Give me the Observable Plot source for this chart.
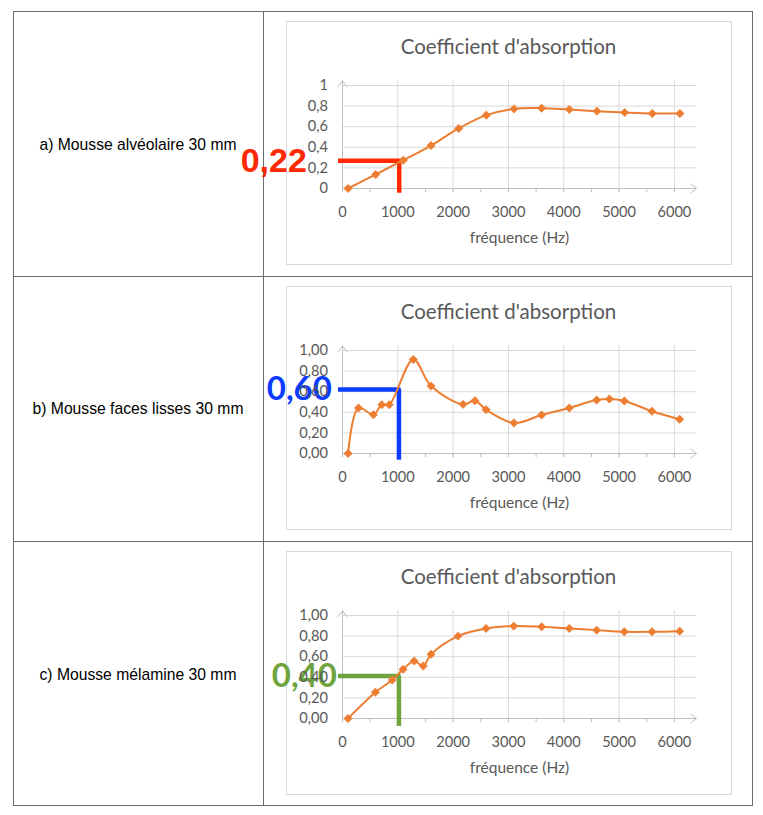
<!DOCTYPE html>
<html><head><meta charset="utf-8">
<script src="https://cdn.jsdelivr.net/npm/d3@7"></script>
<script src="https://cdn.jsdelivr.net/npm/@observablehq/plot@0.6"></script>
<style>
body{margin:0;background:#fff;}
#page{position:relative;width:763px;height:815px;background:#fff;overflow:hidden;}
.rule{position:absolute;background:#6b6b6b;}
.box{position:absolute;left:286px;width:446px;height:244px;border:1px solid #d9d9d9;box-sizing:border-box;}
.lbl{position:absolute;left:13px;width:250px;text-align:center;font-family:"Liberation Sans",Arial,sans-serif;font-size:15.7px;color:#000;line-height:18px;}
.chart{position:absolute;left:230px;}
.chart svg{overflow:visible;}
</style></head><body><div id="page"></div>
<script>
// ---- data ----
const rowLabels = ["a) Mousse alvéolaire 30 mm", "b) Mousse faces lisses 30 mm", "c) Mousse mélamine 30 mm"];
const chartTitle = "Coefficient d'absorption";
const xAxisLabel = "fréquence (Hz)";

const xTickValues = [0, 1000, 2000, 3000, 4000, 5000, 6000];
const xTickLabels = ["0", "1000", "2000", "3000", "4000", "5000", "6000"];
const xMinorTicks = [0, 500, 1000, 1500, 2000, 2500, 3000, 3500, 4000, 4500, 5000, 5500, 6000];
const yTickValues = [0, 0.2, 0.4, 0.6, 0.8, 1];
const yTickLabelsA = ["0", "0,2", "0,4", "0,6", "0,8", "1"];
const yTickLabelsBC = ["0,00", "0,20", "0,40", "0,60", "0,80", "1,00"];

const freqA = [100, 600, 1100, 1600, 2100, 2600, 3100, 3600, 4100, 4600, 5100, 5600, 6100];
const alphaA = [0, 0.136, 0.275, 0.417, 0.583, 0.712, 0.773, 0.78, 0.767, 0.751, 0.738, 0.728, 0.728];

const freqB = [100, 290, 560, 710, 845, 1280, 1600, 2180, 2395, 2595, 3100, 3600, 4100, 4595, 4825, 5095, 5595, 6095];
const alphaB = [0, 0.442, 0.377, 0.474, 0.474, 0.913, 0.655, 0.477, 0.513, 0.426, 0.297, 0.374, 0.442, 0.519, 0.529, 0.51, 0.41, 0.332];

const freqC = [100, 595, 900, 1095, 1295, 1460, 1600, 2090, 2595, 3095, 3600, 4100, 4595, 5095, 5595, 6095];
const alphaC = [0, 0.255, 0.374, 0.477, 0.558, 0.51, 0.623, 0.8, 0.874, 0.897, 0.89, 0.874, 0.858, 0.842, 0.842, 0.848];

// hand-drawn read-off annotations
const annoLabels = ["0,22", "0,60", "0,40"];
const annoFreq = [1025, 1020, 1020];
const annoAlpha = [0.27, 0.622, 0.413];
const annoFloor = [-0.046, -0.065, -0.077];

// ---- layout / style ----
const xDomain = [0, 6400];
const yDomain = [0, 1];
const yTop = 1.045;
const orange = "#ED7D31";
const grid = "#d9d9d9";
const axisGrey = "#bfbfbf";
const annoStyle = [
  {color: "#ff2a04", font: "'Liberation Sans', Arial, sans-serif", size: 34, dx: -35.6},
  {color: "#0a3cff", font: "Lato, sans-serif", size: 33, dx: -10.6},
  {color: "#6ea43e", font: "Lato, sans-serif", size: 33, dx: -5.6}
];
const boxTops = [21, 286, 551];

const page = document.getElementById("page");
function div(cls, css, text) {
  const d = document.createElement("div");
  d.className = cls;
  Object.assign(d.style, css);
  if (text) d.textContent = text;
  page.appendChild(d);
  return d;
}

// table borders
div("rule", {left: "13px", top: "11px", width: "740px", height: "1px"});
div("rule", {left: "13px", top: "805px", width: "740px", height: "1px"});
div("rule", {left: "13px", top: "11px", width: "1px", height: "795px"});
div("rule", {left: "752px", top: "11px", width: "1px", height: "795px"});
div("rule", {left: "263px", top: "11px", width: "1px", height: "795px"});
div("rule", {left: "13px", top: "276px", width: "740px", height: "1px"});
div("rule", {left: "13px", top: "541px", width: "740px", height: "1px"});

const rowCenters = [145, 409, 675];
rowLabels.forEach((t, i) => div("lbl", {top: (rowCenters[i] - 9) + "px"}, t));

const series = [[freqA, alphaA, yTickLabelsA], [freqB, alphaB, yTickLabelsBC], [freqC, alphaC, yTickLabelsBC]];

series.forEach(([freq, alpha, yLabels], k) => {
  div("box", {top: boxTops[k] + "px"});
  const data = freq.map((f, i) => ({f, a: alpha[i]}));
  const anno = [{label: annoLabels[k], f: annoFreq[k], a: annoAlpha[k], floor: annoFloor[k]}];
  const st = annoStyle[k];
  const svg = Plot.plot({
    width: 500, height: 244,
    marginLeft: 112, marginRight: 34, marginTop: 64, marginBottom: 77,
    x: {domain: xDomain, axis: null},
    y: {domain: yDomain, axis: null},
    style: {background: "transparent", fontFamily: "Lato, sans-serif", fontSize: "14px", color: "#595959", overflow: "visible"},
    marks: [
      Plot.ruleY(yTickValues.slice(1), {y: d => d, x1: () => xDomain[0], x2: () => xDomain[1], stroke: grid, strokeWidth: 1}),
      Plot.ruleX(xTickValues.slice(1), {x: d => d, y1: () => -0.04, y2: () => yTop, stroke: grid, strokeWidth: 1}),
      Plot.ruleX(xMinorTicks, {x: d => d, y1: () => -0.04, y2: () => 0, stroke: axisGrey, strokeWidth: 1}),
      Plot.arrow([0], {x1: () => xDomain[0], y1: () => 0, x2: () => xDomain[1], y2: () => 0, stroke: axisGrey, strokeWidth: 1, headLength: 11, headAngle: 75}),
      Plot.arrow([0], {x1: () => xDomain[0], y1: () => 0, x2: () => xDomain[0], y2: () => yTop, stroke: axisGrey, strokeWidth: 1, headLength: 11, headAngle: 75}),
      Plot.text(anno, {x: () => xDomain[0], y: "a", text: "label", textAnchor: "end", lineAnchor: "middle", dx: st.dx, fill: st.color, fontSize: st.size, fontWeight: "bold", fontFamily: st.font}),
      Plot.text(yTickValues, {x: () => xDomain[0], y: d => d, text: (d, i) => yLabels[i], textAnchor: "end", lineAnchor: "middle", dx: -14.5, fontSize: 14.6}),
      Plot.text(xTickValues, {x: d => d, y: () => 0, text: (d, i) => xTickLabels[i], lineAnchor: "middle", dy: 24, fontSize: 14.6}),
      Plot.text([chartTitle], {frameAnchor: "top", text: d => d, lineAnchor: "middle", dx: -11, dy: -38, fontSize: 20.5}),
      Plot.text([xAxisLabel], {frameAnchor: "bottom", text: d => d, lineAnchor: "middle", dy: 50, fontSize: 15.5}),
      Plot.ruleY(anno, {y: "a", x1: () => xDomain[0], x2: "f", stroke: st.color, strokeWidth: 4.5, insetLeft: -4, insetRight: -2}),
      Plot.ruleX(anno, {x: "f", y1: "floor", y2: "a", stroke: st.color, strokeWidth: 4.5}),
      Plot.line(data, {x: "f", y: "a", stroke: orange, strokeWidth: 2, curve: "catmull-rom"}),
      Plot.dot(data, {x: "f", y: "a", symbol: "diamond2", r: 3.8, fill: orange, stroke: orange, strokeWidth: 0.5})
    ]
  });
  const holder = div("chart", {top: boxTops[k] + "px"});
  holder.appendChild(svg);
});
</script>
</body></html>
